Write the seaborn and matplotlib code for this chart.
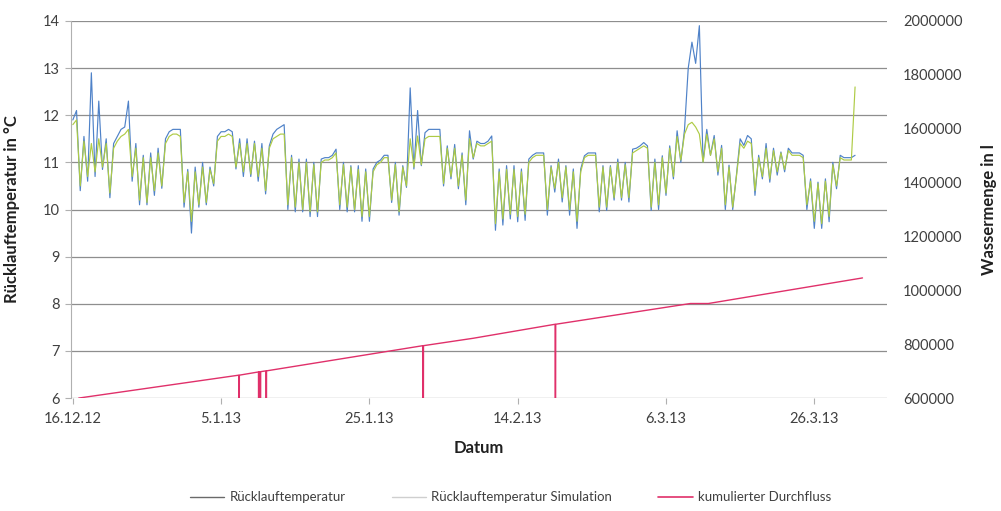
import numpy as np
import pandas as pd
import seaborn as sns
import matplotlib.pyplot as plt
from matplotlib.lines import Line2D

# Temperaturen alle 12 Stunden ab 16.12.12 00:00
start = "2012-12-16 00:00"
temp_measured = [
    11.9, 12.1, 10.4, 11.55, 10.6, 12.9, 10.7, 12.3, 10.85, 11.5,
    10.25, 11.4, 11.55, 11.7, 11.75, 12.3, 10.6, 11.4, 10.1, 11.15,
    10.1, 11.2, 10.3, 11.3, 10.45, 11.5, 11.65, 11.7, 11.7, 11.7,
    10.05, 10.85, 9.5, 10.9, 10.05, 11.0, 10.1, 10.9, 10.5, 11.55,
    11.65, 11.65, 11.7, 11.65, 10.86, 11.5, 10.7, 11.5, 10.7, 11.45,
    10.6, 11.4, 10.33, 11.35, 11.6, 11.7, 11.75, 11.8, 10.0, 11.15,
    9.95, 11.07, 9.95, 11.07, 9.85, 11.0, 9.85, 11.07, 11.1, 11.1,
    11.15, 11.28, 10.0, 11.0, 9.95, 10.93, 9.95, 10.93, 9.75, 10.86,
    9.75, 10.86, 11.0, 11.05, 11.15, 11.15, 10.15, 11.0, 9.88, 10.93,
    10.47, 12.58, 10.86, 12.1, 10.93, 11.63, 11.7, 11.7, 11.7, 11.7,
    10.5, 11.35, 10.65, 11.38, 10.44, 11.2, 10.1, 11.67, 11.07, 11.45,
    11.4, 11.4, 11.45, 11.56, 9.56, 10.86, 9.67, 10.93, 9.8, 10.93,
    9.74, 10.86, 9.77, 11.07, 11.15, 11.2, 11.2, 11.2, 9.88, 10.93,
    10.37, 11.07, 10.16, 10.93, 9.88, 10.86, 9.6, 10.86, 11.14, 11.2,
    11.2, 11.2, 9.95, 10.93, 9.98, 10.93, 10.2, 11.07, 10.2, 11.0,
    10.16, 11.28, 11.3, 11.35, 11.42, 11.35, 9.98, 11.07, 10.0, 11.14,
    10.3, 11.35, 10.65, 11.67, 11.0, 11.7, 13.0, 13.55, 13.1, 13.9,
    11.0, 11.7, 11.15, 11.57, 10.73, 11.36, 10.0, 10.94, 10.0, 10.73,
    11.5, 11.36, 11.57, 11.5, 10.3, 11.15, 10.65, 11.4, 10.58, 11.3,
    10.73, 11.22, 10.8, 11.3, 11.2, 11.2, 11.2, 11.15, 10.0, 10.65,
    9.6, 10.58, 9.6, 10.65, 9.74, 11.0, 10.44, 11.15, 11.1, 11.1,
    11.1, 11.15,
]
temp_simulated = [
    11.8, 11.9, 10.5, 11.45, 10.7, 11.4, 10.8, 11.5, 10.9, 11.4,
    10.35, 11.3, 11.45, 11.55, 11.6, 11.7, 10.7, 11.3, 10.2, 11.1,
    10.15, 11.1, 10.4, 11.2, 10.5, 11.4, 11.55, 11.6, 11.6, 11.55,
    10.15, 10.8, 9.75, 10.8, 10.1, 10.9, 10.15, 10.85, 10.55, 11.45,
    11.55, 11.55, 11.6, 11.55, 10.9, 11.4, 10.8, 11.4, 10.75, 11.4,
    10.7, 11.3, 10.4, 11.3, 11.5, 11.55, 11.6, 11.6, 10.1, 11.1,
    10.05, 11.0, 10.0, 11.0, 9.95, 10.95, 9.95, 11.0, 11.05, 11.05,
    11.1, 11.2, 10.1, 10.95, 10.05, 10.9, 10.0, 10.85, 9.85, 10.8,
    9.85, 10.8, 10.95, 11.0, 11.1, 11.1, 10.2, 10.95, 9.95, 10.9,
    10.5, 11.5, 10.9, 11.56, 10.95, 11.5, 11.55, 11.55, 11.55, 11.55,
    10.55, 11.3, 10.7, 11.3, 10.5, 11.15, 10.2, 11.5, 11.1, 11.4,
    11.35, 11.35, 11.4, 11.45, 9.7, 10.8, 9.8, 10.85, 9.9, 10.85,
    9.85, 10.8, 9.9, 11.0, 11.1, 11.15, 11.15, 11.15, 10.0, 10.9,
    10.45, 11.0, 10.25, 10.9, 10.0, 10.8, 9.75, 10.8, 11.1, 11.15,
    11.15, 11.15, 10.05, 10.9, 10.05, 10.9, 10.25, 11.0, 10.25, 10.95,
    10.25, 11.2, 11.25, 11.3, 11.35, 11.3, 10.05, 11.0, 10.1, 11.1,
    10.35, 11.3, 10.7, 11.55, 11.05, 11.6, 11.8, 11.85, 11.75, 11.6,
    11.0, 11.6, 11.15, 11.5, 10.8, 11.3, 10.1, 10.9, 10.05, 10.7,
    11.4, 11.3, 11.45, 11.4, 10.4, 11.1, 10.7, 11.3, 10.65, 11.25,
    10.8, 11.2, 10.85, 11.25, 11.15, 11.15, 11.15, 11.1, 10.1, 10.6,
    9.75, 10.55, 9.7, 10.6, 9.85, 10.95, 10.5, 11.1, 11.05, 11.05,
    11.05, 12.6,
]

# kumulierter Durchfluss in l (mit Ausfaellen auf 0)
flow_times = [
    "2012-12-16 19:00", "2013-01-07 09:00", "2013-01-07 10:00", "2013-01-07 11:00",
    "2013-01-10 01:00", "2013-01-10 02:00", "2013-01-10 03:00",
    "2013-01-10 06:00", "2013-01-10 07:00", "2013-01-10 08:00",
    "2013-01-11 01:00", "2013-01-11 02:00", "2013-01-11 03:00",
    "2013-02-01 05:00", "2013-02-01 06:00", "2013-02-01 07:00",
    "2013-02-08 00:00",
    "2013-02-19 01:00", "2013-02-19 02:00", "2013-02-19 03:00",
    "2013-03-09 07:00", "2013-03-11 17:00", "2013-04-01 12:00",
]
flow_values = [
    600000, 685000, 0, 685000,
    697000, 0, 697000,
    698000, 0, 698000,
    701000, 0, 701000,
    794500, 0, 794500,
    822000,
    874000, 0, 874000,
    951000, 951000, 1046000,
]

tick_dates = ["2012-12-16", "2013-01-05", "2013-01-25", "2013-02-14", "2013-03-06", "2013-03-26"]
tick_labels = ["16.12.12", "5.1.13", "25.1.13", "14.2.13", "6.3.13", "26.3.13"]
flow_ticks = list(range(600000, 2000001, 200000))

blue = "#4f82c8"
green = "#aecb45"
red = "#e0306a"
grid_gray = "#8e8e8e"
text_col = "#404040"

sns.set_style("white")
plt.rcParams['font.family'] = ['Lato', 'DejaVu Sans']

temp = pd.DataFrame({
    "Datum": pd.date_range(start, periods=len(temp_measured), freq="12h"),
    "gemessen": temp_measured,
    "simuliert": temp_simulated,
})
flow = pd.DataFrame({"Datum": pd.to_datetime(flow_times), "Durchfluss": flow_values})

fig, ax = plt.subplots(figsize=(10.01, 5.11), dpi=100)
fig.subplots_adjust(left=0.0709, right=0.886, top=0.959, bottom=0.221)

sns.lineplot(data=temp, x="Datum", y="gemessen", ax=ax, color=blue, lw=0.85,
             estimator=None, legend=False)
sns.lineplot(data=temp, x="Datum", y="simuliert", ax=ax, color=green, lw=0.85,
             estimator=None, legend=False)

ax.set_ylim(6, 14)
ax.set_yticks(range(6, 15))
ax.set_xlim(pd.Timestamp("2012-12-15 18:00"), pd.Timestamp("2013-04-04 19:00"))
ax.set_xticks(pd.to_datetime(tick_dates))
ax.set_xticklabels(tick_labels)
ax.grid(axis="y", color=grid_gray, lw=0.9)
ax.grid(axis="x", visible=False)
ax.set_axisbelow(True)
for s in ["top", "right", "bottom"]:
    ax.spines[s].set_visible(False)
ax.spines["left"].set_color("#b0b0b0")
ax.tick_params(axis="both", which="major", length=4, color="#b0b0b0",
               labelsize=10.5, labelcolor=text_col, direction="out")
ax.tick_params(axis="x", bottom=True, pad=6)
ax.tick_params(axis="y", left=True, pad=4)
ax.set_xlabel("Datum", fontsize=12, fontweight="bold", color="#202020", labelpad=10)
ax.set_ylabel("Rücklauftemperatur in °C", fontsize=12, fontweight="bold", color="#202020")
ax.yaxis.set_label_coords(-0.062, 0.5)

ax2 = ax.twinx()
sns.lineplot(data=flow, x="Datum", y="Durchfluss", ax=ax2, color=red, lw=1.0,
             estimator=None, legend=False)
ax2.set_ylim(600000, 2000000)
ax2.set_yticks(flow_ticks)
ax2.set_yticklabels([str(v) for v in flow_ticks])
ax2.grid(False)
for s in ["top", "left", "bottom", "right"]:
    ax2.spines[s].set_visible(False)
ax2.tick_params(axis="y", right=False, labelsize=10.5, labelcolor=text_col, pad=8)
ax2.set_ylabel("Wassermenge in l", fontsize=12, fontweight="bold", color="#202020")
ax2.yaxis.set_label_coords(1.115, 0.5)

handles = [
    Line2D([], [], color="#6a6a6a", lw=1.0),
    Line2D([], [], color="#cfcfcf", lw=1.0),
    Line2D([], [], color=red, lw=1.2),
]
labels = ["Rücklauftemperatur", "Rücklauftemperatur Simulation", "kumulierter Durchfluss"]
fig.legend(handles, labels, loc="center", bbox_to_anchor=(0.51, 0.027), ncol=3,
           frameon=False, fontsize=9.5, labelcolor=text_col, columnspacing=3.5,
           handlelength=2.6, handletextpad=0.4)

fig.savefig("out.png", dpi=100)
